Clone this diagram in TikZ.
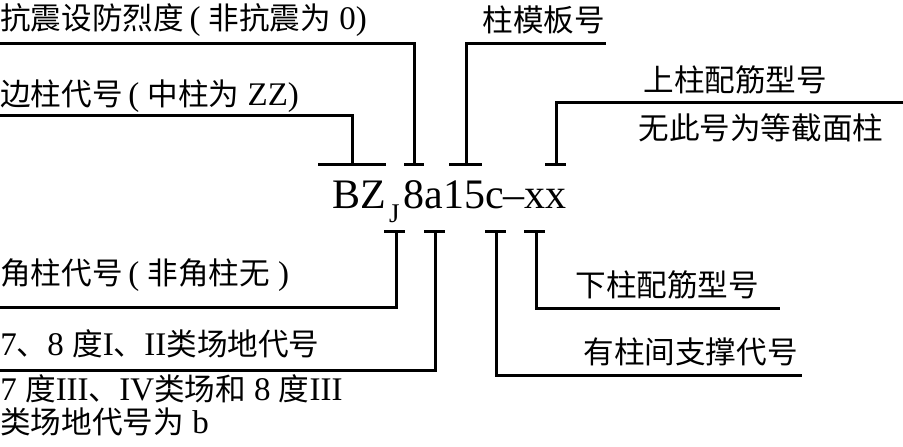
\documentclass[tikz,border=0pt]{standalone}
\usepackage{fontspec}
\setmainfont{Liberation Serif}
\newfontfamily\cjkf{Noto Sans CJK SC}
\newcommand\cj[1]{{\cjkf\fontsize{15.3}{19}\selectfont #1}}
\begin{document}
\begin{tikzpicture}[x=0.5pt,y=-0.5pt,
  lbl/.style={anchor=west,inner sep=0pt,font=\fontsize{16.5}{20}\selectfont},
  conn/.style={line width=1.5pt},
  bar/.style={line width=1.5pt}]
\useasboundingbox (0,0) rectangle (903,446);
% main code
\node[anchor=base west,inner sep=0pt,font=\fontsize{21}{24}\selectfont] (code) at (332,208)
  {BZ\hspace{1.5pt}\raisebox{-7pt}{\fontsize{13.5}{14}\selectfont J}\hspace{2pt}8a15c–xx};
% labels
\node[lbl] (t1) at (0,20) {\cj{抗震设防烈度}\,( \cj{非抗震为} 0)};
\node[lbl] (t2) at (0,96) {\cj{边柱代号}\,( \cj{中柱为} ZZ)};
\node[lbl] (t3) at (482,20) {\cj{柱模板号}};
\node[lbl] (t4) at (643,80) {\cj{上柱配筋型号}};
\node[lbl] (t5) at (638,128) {\cj{无此号为等截面柱}};
\node[lbl] (t6) at (0,275) {\cj{角柱代号}\,( \cj{非角柱无} )};
\node[lbl] (t7) at (0,344) {7\cj{、}8 \cj{度}I\cj{、}II\cj{类场地代号}};
\node[lbl] (t8a) at (0,389) {7 \cj{度}III\cj{、}IV\cj{类场和} 8 \cj{度}III};
\node[lbl] (t8b) at (0,422) {\cj{类场地代号为} b};
\node[lbl] (t9) at (575,285) {\cj{下柱配筋型号}};
\node[lbl] (t10) at (583,352) {\cj{有柱间支撑代号}};
% tick bars (top)
\draw[bar] (318,164) -- (386,164);
\draw[bar] (404,164) -- (424,164);
\draw[bar] (449,164) -- (482,164);
\draw[bar] (545,164) -- (566,164);
% tick bars (bottom)
\draw[bar] (384,231) -- (405,231);
\draw[bar] (424,231) -- (445,231);
\draw[bar] (485,231) -- (506,231);
\draw[bar] (524,231) -- (545,231);
% stems and leader lines
\coordinate (s1) at (352,164); \coordinate (e1) at (0,115);
\coordinate (s2) at (414,164); \coordinate (e2) at (0,43);
\coordinate (s3) at (466,164); \coordinate (e3) at (606,43);
\coordinate (s4) at (556,164); \coordinate (e4) at (903,102);
\coordinate (s5) at (396,231); \coordinate (e5) at (0,307);
\coordinate (s6) at (435,231); \coordinate (e6) at (0,370);
\coordinate (s7) at (496,231); \coordinate (e7) at (802,375);
\coordinate (s8) at (536,231); \coordinate (e8) at (780,308);
\foreach \i in {1,...,8} {\draw[conn] (s\i) |- (e\i);}
\end{tikzpicture}
\end{document}
